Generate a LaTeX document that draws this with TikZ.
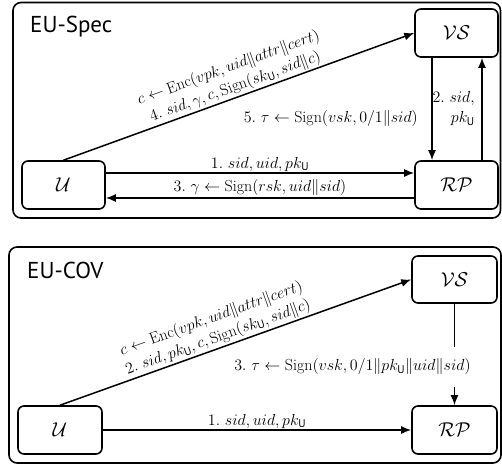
\RequirePackage{fix-cm}
\documentclass[tikz,border=0pt]{standalone}
\usepackage{fontspec}
\setsansfont{PT Sans}
\usetikzlibrary{arrows.meta}
\begin{document}
\begin{tikzpicture}[x=1pt,y=-1pt,
  panel/.style={draw, line width=1.6pt, rounded corners=8pt},
  box/.style={draw, line width=1.6pt, rounded corners=6pt, font=\fontsize{20}{24}\selectfont},
  arr/.style={line width=1.5pt, -{Latex[length=10pt,width=8pt]}},
  lbl/.style={font=\fontsize{16}{20}\selectfont, inner sep=1.5pt},
  ttl/.style={font=\sffamily\fontsize{23}{26}\selectfont, anchor=base west, inner sep=0pt}]
\useasboundingbox (0,0) rectangle (502,465);
% ---------- top panel ----------
\draw[panel] (13,2.5) rectangle (500.5,218);
\node[ttl] (t1) at (30,33) {EU-Spec};
\node[box, minimum width=83pt, minimum height=48pt] (U1) at (63.5,185) {$\mathcal{U}$};
\node[box, minimum width=83pt, minimum height=48pt] (VS1) at (456.5,33) {$\mathcal{VS}$};
\node[box, minimum width=83pt, minimum height=48pt] (RP1) at (456.5,185) {$\mathcal{RP}$};
\draw[arr] ([yshift=12pt]U1.east) -- node[lbl, anchor=base, yshift=5pt] (l1a) {$1.\ sid, uid, pk_{\mathsf{U}}$} ([yshift=12pt]RP1.west);
\draw[arr] ([yshift=-13pt]RP1.west) -- node[lbl, anchor=base, yshift=7pt] (l1b) {$3.\ \gamma \leftarrow \mathrm{Sign}(rsk, uid\|sid)$} ([yshift=-13pt]U1.east);
\draw[arr] ([xshift=-24.5pt]VS1.south) -- node[lbl, left=12pt, yshift=-10pt] (l1c) {$5.\ \tau \leftarrow \mathrm{Sign}(vsk, 0/1\|sid)$} ([xshift=-24.5pt]RP1.north);
\draw[arr] ([xshift=25.5pt]RP1.north) -- node[lbl, left=5pt, align=right] (l1d) {$2.\ sid,$\\ $pk_{\mathsf{U}}$} ([xshift=25.5pt]VS1.south);
\draw[arr] (U1.north) -- node[lbl, pos=0.5, above=0pt, sloped, align=center] (l1e) {$c \leftarrow \mathrm{Enc}(vpk, uid\|attr\|cert)$\\ $4.\ sid, \gamma, c, \mathrm{Sign}(sk_{\mathsf{U}}, sid\|c)$} (VS1.west);
% ---------- bottom panel ----------
\draw[panel] (9,247) rectangle (501,463);
\node[ttl] (t2) at (27,278) {EU-COV};
\node[box, minimum width=84pt, minimum height=48pt] (U2) at (60,430) {$\mathcal{U}$};
\node[box, minimum width=85pt, minimum height=47pt] (VS2) at (454.5,279.5) {$\mathcal{VS}$};
\node[box, minimum width=85pt, minimum height=48pt] (RP2) at (454.5,430) {$\mathcal{RP}$};
\draw[arr] (U2.east) -- node[lbl, anchor=base, yshift=5pt] (l2a) {$1.\ sid, uid, pk_{\mathsf{U}}$} (RP2.west);
\draw[arr] (VS2.south) -- node[lbl, pos=0.62, fill=white, inner ysep=12pt, xshift=-102pt] (l2b) {$3.\ \tau \leftarrow \mathrm{Sign}(vsk, 0/1\|pk_{\mathsf{U}}\|uid\|sid)$} (RP2.north);
\draw[arr] (U2.north) -- node[lbl, pos=0.46, above=0pt, sloped, align=center] (l2c) {$c \leftarrow \mathrm{Enc}(vpk, uid\|attr\|cert)$\\ $2.\ sid, pk_{\mathsf{U}}, c, \mathrm{Sign}(sk_{\mathsf{U}}, sid\|c)$} (VS2.west);
\end{tikzpicture}
\end{document}
